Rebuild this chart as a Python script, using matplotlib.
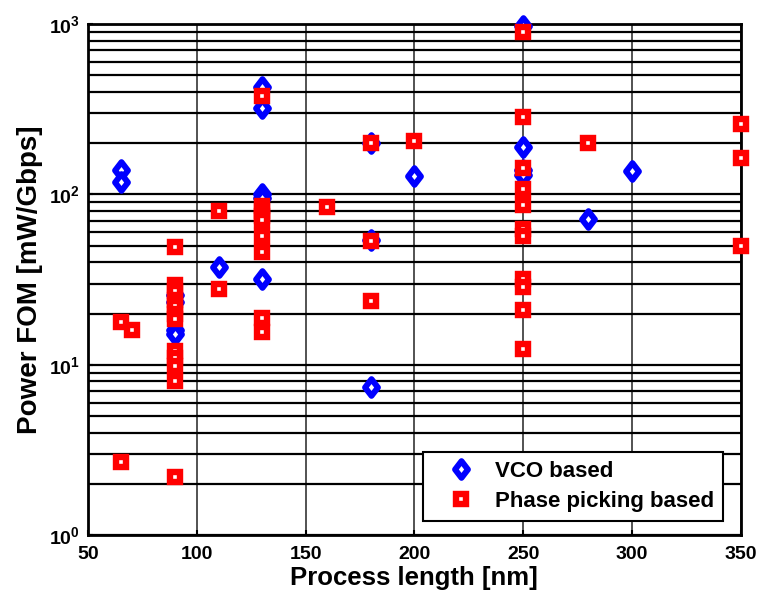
import numpy as np
import matplotlib.pyplot as plt
from matplotlib.path import Path

plt.rcParams['font.family'] = ['Liberation Sans', 'DejaVu Sans']
plt.rcParams['font.weight'] = 'bold'

# VCO based designs
vco_x = [65, 65, 90, 90, 90, 90, 110, 130, 130, 130, 130, 130,
         180, 180, 180, 200, 250, 250, 250, 250, 280, 300]
vco_y = [139, 118, 25.7, 23.4, 16, 15.2, 37.5, 427, 322, 100, 95, 32,
         200, 54, 7.4, 128, 980, 190, 139, 130, 71.7, 137]

# phase picking based designs
pp_x = [65, 65, 70, 90, 90, 90, 90, 90, 90, 90, 90, 90, 90, 90, 90,
        110, 110, 130, 130, 130, 130, 130, 130, 130, 130, 130,
        160, 180, 180, 180, 200,
        250, 250, 250, 250, 250, 250, 250, 250, 250, 250, 250,
        280, 350, 350, 350]
pp_y = [17.8, 2.68, 16.0, 49, 29.4, 27, 24, 22, 20, 18.5, 12, 11, 9.8, 8.0, 2.19,
        80, 27.8, 378, 85, 80, 75, 71, 57, 45.9, 18.8, 15.6,
        84, 200, 53, 23.7, 206,
        899, 285, 143, 108, 86.7, 62.8, 57, 31.9, 28.5, 21, 12.4,
        200, 259, 164, 49.8]

# a diamond a bit taller than wide
diamond = Path([(0, 1), (0.77, 0), (0, -1), (-0.77, 0), (0, 1)],
               [Path.MOVETO, Path.LINETO, Path.LINETO, Path.LINETO, Path.CLOSEPOLY])

fig = plt.figure(figsize=(7.59, 6.02), dpi=100)
ax = fig.add_axes([0.116, 0.111, 0.860, 0.849])

ax.plot(vco_x, vco_y, linestyle='none', marker=diamond, markersize=12,
        markerfacecolor='white', markeredgecolor='blue', markeredgewidth=4.3,
        label='VCO based', zorder=3, clip_on=False)
ax.plot(pp_x, pp_y, linestyle='none', marker='s', markersize=6.8,
        markerfacecolor='white', markeredgecolor='red', markeredgewidth=4.6,
        label='Phase picking based', zorder=4, clip_on=False)

ax.set_yscale('log')
ax.set_xlim(50, 350)
ax.set_ylim(1, 1000)
ax.set_xticks(np.arange(50, 351, 50))
ax.set_yticks([1, 10, 100, 1000])

ax.grid(True, which='major', axis='x', color='#444444', linewidth=1.3)
ax.grid(True, which='both', axis='y', color='black', linewidth=1.6)
ax.tick_params(axis='both', which='both', direction='in', labelsize=14, width=1.5)
ax.tick_params(axis='x', pad=8)
ax.tick_params(axis='y', pad=6)
ax.tick_params(axis='y', which='minor', length=0)
for sp in ax.spines.values():
    sp.set_linewidth(2)

ax.set_xlabel('Process length [nm]', fontsize=18.5, fontweight='bold', labelpad=2)
ax.set_ylabel('Power FOM [mW/Gbps]', fontsize=20, fontweight='bold', labelpad=4)

leg = ax.legend(loc='lower right', bbox_to_anchor=(0.99, 0.006), fontsize=16,
                fancybox=False, framealpha=1, edgecolor='black',
                handletextpad=0.25, borderpad=0.4, labelspacing=0.4,
                handlelength=2.6)
leg.get_frame().set_linewidth(1.5)

fig.savefig('out.png', dpi=100)
